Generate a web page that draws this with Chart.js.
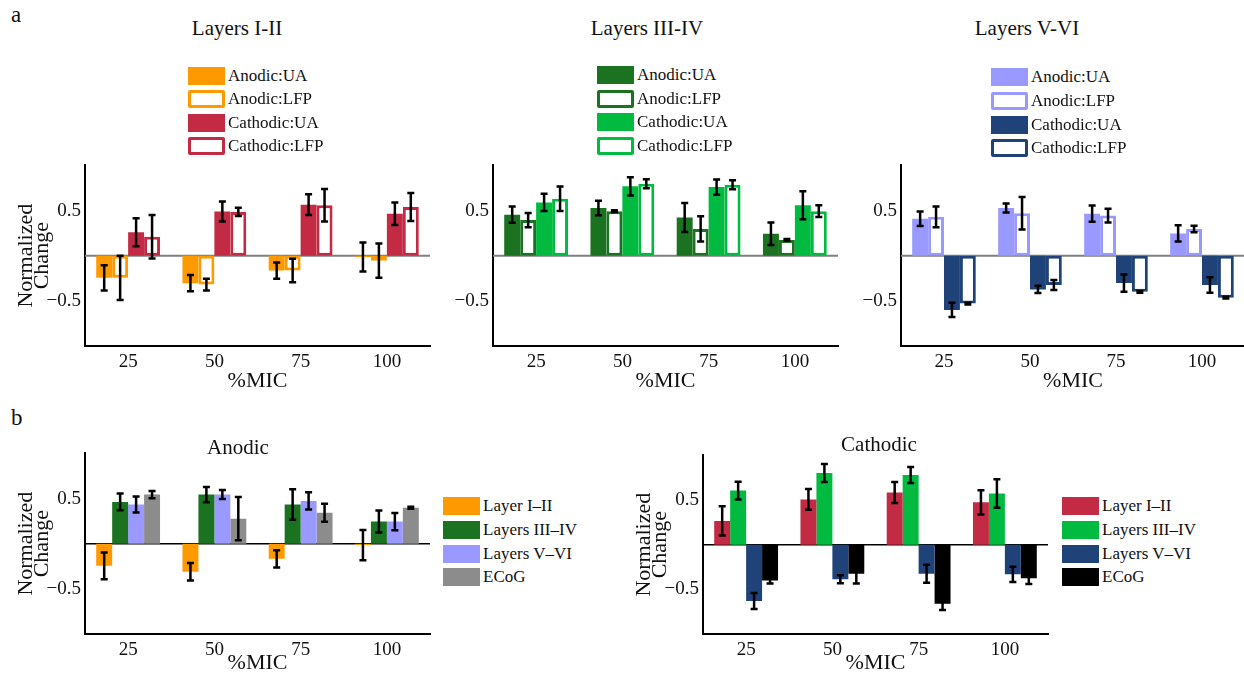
<!DOCTYPE html>
<html><head><meta charset="utf-8">
<script src="https://cdn.jsdelivr.net/npm/chart.js@4.4.1/dist/chart.umd.min.js"></script>
<style>
body{margin:0;width:1244px;height:679px;position:relative;background:#fff;font-family:'Liberation Serif',serif;overflow:hidden;color:#111}
canvas{position:absolute}
.t{position:absolute;font-size:21px;white-space:nowrap;transform:translate(-50%,-50%)}
.p{position:absolute;font-size:23px}
.row{position:absolute;display:flex;align-items:center;white-space:nowrap;font-size:17px;height:18px}
.sw{width:37px;height:18px;box-sizing:border-box;margin-right:3px;border-radius:2px}
</style></head><body>
<div class="p" style="left:11px;top:2px">a</div>
<div class="p" style="left:11px;top:405px">b</div>
<script>
// ---------- data ----------
const categories = ['25', '50', '75', '100'];
const yTicks = [-0.5, 0.5];

// Panel a, Layers I-II
const l12AnodicUA = [-0.245, -0.305, -0.165, -0.015];
const l12AnodicUAErr = [0.14, 0.09, 0.09, 0.16];
const l12AnodicLFP = [-0.245, -0.32, -0.165, -0.055];
const l12AnodicLFPErr = [0.245, 0.065, 0.13, 0.19];
const l12CathodicUA = [0.26, 0.49, 0.565, 0.465];
const l12CathodicUAErr = [0.155, 0.11, 0.115, 0.125];
const l12CathodicLFP = [0.21, 0.485, 0.56, 0.54];
const l12CathodicLFPErr = [0.24, 0.045, 0.18, 0.155];

// Panel a, Layers III-IV
const l34AnodicUA = [0.454, 0.528, 0.423, 0.243];
const l34AnodicUAErr = [0.09, 0.08, 0.16, 0.125];
const l34AnodicLFP = [0.394, 0.493, 0.296, 0.175];
const l34AnodicLFPErr = [0.08, 0.01, 0.14, 0.01];
const l34CathodicUA = [0.59, 0.768, 0.76, 0.56];
const l34CathodicUAErr = [0.095, 0.1, 0.085, 0.155];
const l34CathodicLFP = [0.63, 0.796, 0.785, 0.493];
const l34CathodicLFPErr = [0.135, 0.05, 0.05, 0.065];

// Panel a, Layers V-VI
const l56AnodicUA = [0.41, 0.528, 0.465, 0.246];
const l56AnodicUAErr = [0.08, 0.05, 0.09, 0.09];
const l56AnodicLFP = [0.43, 0.47, 0.444, 0.296];
const l56AnodicLFPErr = [0.115, 0.18, 0.075, 0.035];
const l56CathodicUA = [-0.6, -0.373, -0.303, -0.324];
const l56CathodicUAErr = [0.08, 0.04, 0.095, 0.085];
const l56CathodicLFP = [-0.53, -0.324, -0.4, -0.465];
const l56CathodicLFPErr = [0.01, 0.055, 0.01, 0.01];

// Panel b, Anodic
const anoL12 = [-0.245, -0.31, -0.168, -0.015];
const anoL12Err = [0.148, 0.097, 0.095, 0.168];
const anoL34 = [0.463, 0.544, 0.434, 0.245];
const anoL34Err = [0.093, 0.084, 0.17, 0.122];
const anoL56 = [0.434, 0.544, 0.474, 0.245];
const anoL56Err = [0.088, 0.05, 0.095, 0.095];
const anoECoG = [0.544, 0.277, 0.343, 0.398];
const anoECoGErr = [0.04, 0.24, 0.1, 0.012];

// Panel b, Cathodic
const catL12 = [0.266, 0.507, 0.584, 0.474];
const catL12Err = [0.164, 0.117, 0.117, 0.137];
const catL34 = [0.606, 0.803, 0.781, 0.573];
const catL34Err = [0.1, 0.1, 0.09, 0.16];
const catL56 = [-0.631, -0.387, -0.325, -0.332];
const catL56Err = [0.09, 0.046, 0.1, 0.085];
const catECoG = [-0.40, -0.325, -0.66, -0.376];
const catECoGErr = [0.035, 0.11, 0.07, 0.065];

// ---------- styling ----------
const C = {
  orange: '#FF9900', red: '#C22B43', dkgreen: '#1B7322', green: '#00BB40',
  purple: '#9999FF', navy: '#1F4278', gray: '#8C8C8C', black: '#000000'
};
Chart.defaults.font.family = "'Liberation Serif', 'Times New Roman', serif";
Chart.defaults.color = '#111';

function filled(label, data, err, color) {
  return { label, data, err, backgroundColor: color, borderColor: color, borderWidth: 0,
    borderSkipped: false, categoryPercentage: 0.74, barPercentage: 1.0, outline: false };
}
function boxed(label, data, err, color) {
  return { label, data, err, backgroundColor: '#ffffff', borderColor: color, borderWidth: 3,
    borderSkipped: false, categoryPercentage: 0.74, barPercentage: 1.0, outline: true };
}

const zeroLine = {
  id: 'zeroLine',
  beforeDatasetsDraw(chart, args, opts) {
    const { ctx, chartArea } = chart;
    const y = chart.scales.y.getPixelForValue(0);
    ctx.save();
    ctx.strokeStyle = opts.color || '#000';
    ctx.lineWidth = opts.width || 1.5;
    ctx.beginPath();
    ctx.moveTo(chartArea.left, y);
    ctx.lineTo(chartArea.right, y);
    ctx.stroke();
    ctx.restore();
  }
};
const errorBars = {
  id: 'errorBars',
  afterDatasetsDraw(chart) {
    const { ctx } = chart;
    const ys = chart.scales.y;
    ctx.save();
    ctx.strokeStyle = '#000';
    ctx.lineWidth = 2.5;
    chart.data.datasets.forEach((ds, i) => {
      const meta = chart.getDatasetMeta(i);
      meta.data.forEach((el, j) => {
        const v = ds.data[j], e = ds.err[j];
        const x = el.x;
        const y1 = ys.getPixelForValue(v + e), y2 = ys.getPixelForValue(v - e);
        ctx.beginPath();
        ctx.moveTo(x, y1); ctx.lineTo(x, y2);
        ctx.moveTo(x - 3.5, y1); ctx.lineTo(x + 3.5, y1);
        ctx.moveTo(x - 3.5, y2); ctx.lineTo(x + 3.5, y2);
        ctx.stroke();
      });
    });
    ctx.restore();
  }
};

function fmt(v) { return v < 0 ? '\u2212' + Math.abs(v) : String(v); }

function makeChart(rect, pad, yWidth, xHeight, xTitlePad, yTitle, zeroColor, datasets) {
  const cv = document.createElement('canvas');
  cv.width = rect.w; cv.height = rect.h;
  cv.style.left = rect.x + 'px'; cv.style.top = rect.y + 'px';
  cv.style.width = rect.w + 'px'; cv.style.height = rect.h + 'px';
  document.body.appendChild(cv);
  return new Chart(cv, {
    type: 'bar',
    data: { labels: categories, datasets },
    options: {
      responsive: false, animation: false, devicePixelRatio: 1,
      layout: { padding: pad, autoPadding: false },
      plugins: { legend: { display: false }, tooltip: { enabled: false }, zeroLine: { color: zeroColor, width: zeroColor === '#000' ? 1.5 : 2 } },
      scales: {
        x: {
          grid: { display: false, drawTicks: false },
          border: { display: true, color: '#000', width: 2 },
          ticks: { font: { size: 19 }, color: '#111', padding: 5 },
          title: { display: true, text: '%MIC', font: { size: 22 }, color: '#111', padding: { top: 0, bottom: xTitlePad } },
          afterFit: s => { s.height = xHeight; }
        },
        y: {
          min: -1, max: 1,
          grid: { display: false, drawTicks: false },
          border: { display: true, color: '#000', width: 2 },
          ticks: { font: { size: 19 }, color: '#111', padding: 4, callback: v => fmt(v) },
          afterBuildTicks: s => { s.ticks = yTicks.map(v => ({ value: v })); },
          title: { display: yTitle, text: ['Normalized', 'Change'], font: { size: 22, lineHeight: 0.72 }, color: '#111', padding: { top: 18, bottom: 0 } },
          afterFit: s => { s.width = yWidth; }
        }
      }
    },
    plugins: [zeroLine, errorBars]
  });
}

function addText(txt, x, y) {
  const d = document.createElement('div');
  d.className = 't'; d.textContent = txt;
  d.style.left = x + 'px'; d.style.top = y + 'px';
  document.body.appendChild(d);
}
function addLegend(datasets, left, centers) {
  datasets.forEach((ds, i) => {
    const r = document.createElement('div');
    r.className = 'row';
    r.style.left = left + 'px'; r.style.top = (centers[i] - 9) + 'px';
    const s = document.createElement('div');
    s.className = 'sw';
    if (ds.outline) { s.style.background = '#fff'; s.style.border = '3px solid ' + ds.borderColor; }
    else { s.style.background = ds.backgroundColor; s.style.borderRadius = '0'; }
    const t = document.createElement('span');
    t.textContent = ds.label;
    r.appendChild(s); r.appendChild(t);
    document.body.appendChild(r);
  });
}

// ---------- panel a ----------
const dsA1 = [
  filled('Anodic:UA', l12AnodicUA, l12AnodicUAErr, C.orange),
  boxed('Anodic:LFP', l12AnodicLFP, l12AnodicLFPErr, C.orange),
  filled('Cathodic:UA', l12CathodicUA, l12CathodicUAErr, C.red),
  boxed('Cathodic:LFP', l12CathodicLFP, l12CathodicLFPErr, C.red)
];
const dsA2 = [
  filled('Anodic:UA', l34AnodicUA, l34AnodicUAErr, C.dkgreen),
  boxed('Anodic:LFP', l34AnodicLFP, l34AnodicLFPErr, C.dkgreen),
  filled('Cathodic:UA', l34CathodicUA, l34CathodicUAErr, C.green),
  boxed('Cathodic:LFP', l34CathodicLFP, l34CathodicLFPErr, C.green)
];
const dsA3 = [
  filled('Anodic:UA', l56AnodicUA, l56AnodicUAErr, C.purple),
  boxed('Anodic:LFP', l56AnodicLFP, l56AnodicLFPErr, C.purple),
  filled('Cathodic:UA', l56CathodicUA, l56CathodicUAErr, C.navy),
  boxed('Cathodic:LFP', l56CathodicLFP, l56CathodicLFPErr, C.navy)
];
makeChart({ x: 0, y: 150, w: 440, h: 250 }, { top: 12, right: 10, bottom: 0, left: 0 }, 85, 54, 6, true, '#808080', dsA1);
makeChart({ x: 440, y: 150, w: 408, h: 250 }, { top: 12, right: 10, bottom: 0, left: 0 }, 53, 54, 6, false, '#808080', dsA2);
makeChart({ x: 848, y: 150, w: 397, h: 250 }, { top: 12, right: 0, bottom: 0, left: 0 }, 53, 54, 6, false, '#808080', dsA3);
addText('Layers I-II', 237, 28);
addText('Layers III-IV', 647, 28);
addText('Layers V-VI', 1027, 28);
addLegend(dsA1, 188, [75.5, 99, 122.5, 146]);
addLegend(dsA2, 597, [75, 98.5, 122, 145.5]);
addLegend(dsA3, 991, [77, 100.5, 124.5, 147.5]);

// ---------- panel b ----------
const dsB1 = [
  filled('Layer I\u2013II', anoL12, anoL12Err, C.orange),
  filled('Layers III\u2013IV', anoL34, anoL34Err, C.dkgreen),
  filled('Layers V\u2013VI', anoL56, anoL56Err, C.purple),
  filled('ECoG', anoECoG, anoECoGErr, C.gray)
];
const dsB2 = [
  filled('Layer I\u2013II', catL12, catL12Err, C.red),
  filled('Layers III\u2013IV', catL34, catL34Err, C.green),
  filled('Layers V\u2013VI', catL56, catL56Err, C.navy),
  filled('ECoG', catECoG, catECoGErr, C.black)
];
makeChart({ x: 0, y: 438, w: 440, h: 241 }, { top: 12, right: 10, bottom: 0, left: 0 }, 85, 45, 3, true, '#000', dsB1);
makeChart({ x: 618, y: 440, w: 440, h: 239 }, { top: 12, right: 10, bottom: 0, left: 0 }, 85, 45, 3, true, '#000', dsB2);
addText('Anodic', 238, 447);
addText('Cathodic', 879, 444);
addLegend(dsB1, 443, [506, 530, 554, 577]);
addLegend(dsB2, 1062, [506, 530, 554, 577]);
</script>
</body></html>
